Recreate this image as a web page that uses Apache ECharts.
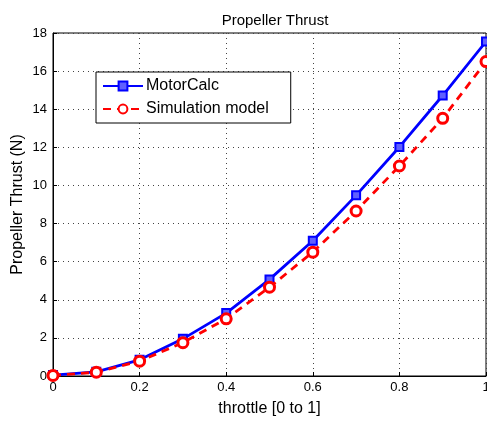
<!DOCTYPE html>
<html>
<head>
<meta charset="utf-8">
<script src="https://cdn.jsdelivr.net/npm/echarts@6/dist/echarts.min.js"></script>
<style>
  html, body { margin: 0; padding: 0; background: #fff; }
  #main { width: 487px; height: 421px; }
</style>
</head>
<body>
<div id="main"></div>
<script>
var throttle = [0, 0.1, 0.2, 0.3, 0.4, 0.5, 0.6, 0.7, 0.8, 0.9, 1.0];
var motorCalc = [0.05, 0.22, 0.85, 1.95, 3.3, 5.07, 7.1, 9.48, 12.02, 14.72, 17.55];
var simModel = [0.03, 0.2, 0.78, 1.75, 3.0, 4.66, 6.5, 8.66, 11.02, 13.52, 16.5];

function pairs(xs, ys) {
  var out = [];
  for (var i = 0; i < xs.length; i++) {
    out.push([xs[i], ys[i]]);
  }
  return out;
}

var myChart = echarts.init(document.getElementById('main'));
var font = 'Liberation Sans, Arial, Helvetica, sans-serif';

myChart.setOption({
  backgroundColor: '#fff',
  animation: false,
  title: {
    text: 'Propeller Thrust',
    left: 270,
    textAlign: 'center',
    top: 8,
    textStyle: { fontFamily: font, fontSize: 15, fontWeight: 'normal', color: '#000' }
  },
  grid: {
    left: 53, right: 1, top: 33, bottom: 45,
    outerBoundsMode: 'none',
    containLabel: false,
    show: true, borderColor: '#000', borderWidth: 1
  },
  legend: {
    left: 96, top: 72, orient: 'vertical',
    width: 194, height: 52,
    padding: [6, 22, 6, 6],
    itemGap: 7,
    itemWidth: 40, itemHeight: 11,
    backgroundColor: '#fff',
    borderColor: '#000', borderWidth: 1, borderRadius: 0,
    textStyle: { fontFamily: font, fontSize: 16, color: '#000', padding: [0, 0, 0, -2] },
    data: ['MotorCalc', 'Simulation model']
  },
  xAxis: {
    type: 'value', min: 0, max: 1, interval: 0.2,
    name: 'throttle [0 to 1]', nameLocation: 'middle', nameGap: 25,
    nameTextStyle: { fontFamily: font, fontSize: 16, color: '#000' },
    axisLine: { lineStyle: { color: '#000', width: 1 } },
    axisTick: { inside: true, length: 4, lineStyle: { color: '#000' } },
    axisLabel: { fontFamily: font, fontSize: 13, color: '#000', margin: 5 },
    splitLine: { show: true, lineStyle: { color: '#444', type: [1, 4], width: 1 } }
  },
  yAxis: {
    type: 'value', min: 0, max: 18, interval: 2,
    name: 'Propeller Thrust (N)', nameLocation: 'middle', nameGap: 27,
    nameMoveOverlap: false,
    nameTextStyle: { fontFamily: font, fontSize: 16, color: '#000' },
    axisLine: { show: true, lineStyle: { color: '#000', width: 1 } },
    axisTick: { show: true, inside: true, length: 4, lineStyle: { color: '#000' } },
    axisLabel: { fontFamily: font, fontSize: 13, color: '#000', margin: 6 },
    splitLine: { show: true, lineStyle: { color: '#444', type: [1, 4], width: 1 } }
  },
  series: [
    {
      name: 'MotorCalc',
      type: 'line',
      data: pairs(throttle, motorCalc),
      symbol: 'rect', symbolSize: 8,
      showAllSymbol: true,
      lineStyle: { color: '#0000ff', width: 2.8 },
      itemStyle: { color: '#6060ff', borderColor: '#0000ff', borderWidth: 2 },
      z: 2
    },
    {
      name: 'Simulation model',
      type: 'line',
      data: pairs(throttle, simModel),
      symbol: 'circle', symbolSize: 10,
      showAllSymbol: true,
      lineStyle: { color: '#ff0000', width: 2.8, type: [8, 6] },
      itemStyle: { color: '#fff', borderColor: '#ff0000', borderWidth: 3 },
      z: 3
    }
  ]
});
</script>
</body>
</html>
